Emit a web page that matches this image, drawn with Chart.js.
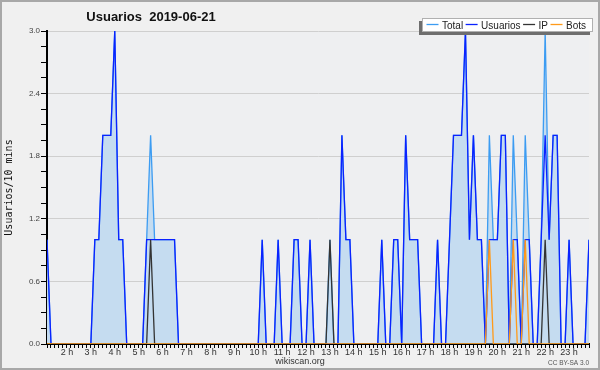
<!DOCTYPE html>
<html>
<head>
<meta charset="utf-8">
<script src="https://cdn.jsdelivr.net/npm/chart.js@4"></script>
<style>
  html, body { margin: 0; padding: 0; background: #f0f0f0; }
</style>
</head>
<body>
<canvas id="usersChart" width="600" height="370"></canvas>
<script>
// 10 minute bins for 2019-06-21
var usuarios = [
  1,0,0,0,0,0,0,0,0,0,0,0,
  1,1,2,2,2,3,1,1,0,0,0,0,
  0,1,1,1,1,1,1,1,1,0,0,0,
  0,0,0,0,0,0,0,0,0,0,0,0,
  0,0,0,0,0,0,1,0,0,0,1,0,
  0,0,1,1,0,0,1,0,0,0,0,0,
  0,0,2,1,1,0,0,0,0,0,0,0,
  1,0,0,1,1,0,2,1,1,1,0,0,
  0,0,1,0,0,1,2,2,2,3,1,2,
  1,1,0,1,1,1,2,2,0,1,1,0,
  1,1,0,0,1,2,1,2,2,0,0,1,
  0,0,0,0,1
];
var total = [
  1,0,0,0,0,0,0,0,0,0,0,0,
  1,1,2,2,2,3,1,1,0,0,0,0,
  0,1,2,1,1,1,1,1,1,0,0,0,
  0,0,0,0,0,0,0,0,0,0,0,0,
  0,0,0,0,0,0,1,0,0,0,1,0,
  0,0,1,1,0,0,1,0,0,0,0,1,
  0,0,2,1,1,0,0,0,0,0,0,0,
  1,0,0,1,1,0,2,1,1,1,0,0,
  0,0,1,0,0,1,2,2,2,3,1,2,
  1,1,0,2,1,1,2,2,0,2,1,0,
  2,1,0,0,1,3,1,2,2,0,0,1,
  0,0,0,0,1
];
var ip = [
  0,0,0,0,0,0,0,0,0,0,0,0,
  0,0,0,0,0,0,0,0,0,0,0,0,
  0,0,1,0,0,0,0,0,0,0,0,0,
  0,0,0,0,0,0,0,0,0,0,0,0,
  0,0,0,0,0,0,0,0,0,0,0,0,
  0,0,0,0,0,0,0,0,0,0,0,1,
  0,0,0,0,0,0,0,0,0,0,0,0,
  0,0,0,0,0,0,0,0,0,0,0,0,
  0,0,0,0,0,0,0,0,0,0,0,0,
  0,0,0,0,0,0,0,0,0,0,0,0,
  0,0,0,0,0,1,0,0,0,0,0,0,
  0,0,0,0,0
];
var bots = [
  0,0,0,0,0,0,0,0,0,0,0,0,
  0,0,0,0,0,0,0,0,0,0,0,0,
  0,0,0,0,0,0,0,0,0,0,0,0,
  0,0,0,0,0,0,0,0,0,0,0,0,
  0,0,0,0,0,0,0,0,0,0,0,0,
  0,0,0,0,0,0,0,0,0,0,0,0,
  0,0,0,0,0,0,0,0,0,0,0,0,
  0,0,0,0,0,0,0,0,0,0,0,0,
  0,0,0,0,0,0,0,0,0,0,0,0,
  0,0,0,1,0,0,0,0,0,1,0,0,
  1,0,0,0,0,0,0,0,0,0,0,0,
  0,0,0,0,0
];
var hourLabels = ['2 h','3 h','4 h','5 h','6 h','7 h','8 h','9 h','10 h','11 h','12 h','13 h',
                  '14 h','15 h','16 h','17 h','18 h','19 h','20 h','21 h','22 h','23 h'];
var yTicks = [0, 0.6, 1.2, 1.8, 2.4, 3.0];

var chartTitle = 'Usuarios  2019-06-21';
var yTitle = 'Usuarios/10 mins';

function toPoints(arr) {
    return arr.map(function(v, i) { return {x: i, y: v}; });
}

var lastIdx = usuarios.length - 1;

// background, frame, title, legend and footer
var decor = {
    id: 'decor',
    beforeDraw: function(chart) {
        var c = chart.ctx, a = chart.chartArea;
        c.save();
        c.fillStyle = '#f0f0f0';
        c.fillRect(0, 0, chart.width, chart.height);
        c.fillStyle = '#eeeff1';
        c.fillRect(a.left, a.top, a.right - a.left, a.bottom - a.top);
        c.strokeStyle = '#a8a8a8';
        c.lineWidth = 2;
        c.strokeRect(1, 1, chart.width - 2, chart.height - 2);
        c.restore();
    },
    afterDraw: function(chart) {
        var c = chart.ctx;
        c.save();
        c.fillStyle = '#111';
        c.font = 'bold 13px "Liberation Sans"';
        c.textAlign = 'center';
        c.textBaseline = 'alphabetic';
        c.fillText(chartTitle, 151, 21);

        // legend box
        c.fillStyle = '#6e6e6e';
        c.fillRect(419, 21, 171, 14);
        c.fillStyle = '#ffffff';
        c.fillRect(422, 18, 171, 14);
        c.strokeStyle = '#b0b0b0';
        c.lineWidth = 1;
        c.strokeRect(422.5, 18.5, 170, 13);

        c.font = '10px "Liberation Sans"';
        c.textAlign = 'left';
        var x = 426.5;
        chart.data.datasets.forEach(function(ds) {
            c.strokeStyle = ds.borderColor;
            c.lineWidth = 1.3;
            c.beginPath();
            c.moveTo(x, 24.5);
            c.lineTo(x + 12, 24.5);
            c.stroke();
            x += 15.5;
            c.fillStyle = '#222';
            c.fillText(ds.label, x, 28.5);
            x += c.measureText(ds.label).width + 2.5;
        });

        c.font = '9px "Liberation Sans"';
        c.textAlign = 'center';
        c.fillStyle = '#333';
        c.fillText('wikiscan.org', 300, 364);
        c.font = '6.5px "Liberation Sans"';
        c.textAlign = 'right';
        c.fillStyle = '#555';
        c.fillText('CC BY-SA 3.0', 589, 365);
        c.restore();
    }
};

var ctx = document.getElementById('usersChart').getContext('2d');
var usersChart = new Chart(ctx, {
    type: 'line',
    data: {
        datasets: [
            {
                label: 'Total',
                data: toPoints(total),
                borderColor: '#3c9cf2',
                backgroundColor: '#c5dcf0',
                fill: 'origin',
                order: 4
            },
            {
                label: 'Usuarios',
                data: toPoints(usuarios),
                borderColor: '#0a22ff',
                order: 3
            },
            {
                label: 'IP',
                data: toPoints(ip),
                borderColor: '#333333',
                order: 2
            },
            {
                label: 'Bots',
                data: toPoints(bots),
                borderColor: '#ff9a1a',
                order: 1
            }
        ]
    },
    options: {
        responsive: false,
        animation: false,
        devicePixelRatio: 1,
        layout: { padding: { top: 31, right: 11, left: 0, bottom: 0 } },
        elements: {
            point: { radius: 0 },
            line: { borderWidth: 1.3, tension: 0 }
        },
        plugins: {
            legend: { display: false },
            title: { display: false },
            tooltip: { enabled: false }
        },
        scales: {
            x: {
                type: 'linear',
                min: 0,
                max: lastIdx,
                afterFit: function(scale) { scale.height = 26; },
                afterBuildTicks: function(scale) {
                    var t = [];
                    for (var i = 0; i <= lastIdx; i++) t.push({value: i});
                    scale.ticks = t;
                },
                grid: {
                    drawOnChartArea: false,
                    tickLength: 4,
                    tickColor: '#000'
                },
                border: { display: true, color: '#000', width: 2 },
                ticks: {
                    autoSkip: false,
                    maxRotation: 0,
                    padding: -1,
                    color: '#333',
                    font: { family: 'Liberation Sans', size: 9 },
                    callback: function(v) {
                        var k = (v - 5) / 6;
                        return (k >= 0 && k === Math.floor(k) && hourLabels[k]) ? hourLabels[k] : '';
                    }
                }
            },
            y: {
                min: 0,
                max: 3,
                afterFit: function(scale) { scale.width = 47; },
                afterBuildTicks: function(scale) {
                    var t = [];
                    for (var k = 0; k <= 20; k++) t.push({value: Math.round(k * 15) / 100});
                    scale.ticks = t;
                },
                grid: {
                    tickLength: 6,
                    tickColor: '#000',
                    color: function(c) {
                        var v = c.tick ? c.tick.value : 0;
                        return yTicks.some(function(m) { return Math.abs(m - v) < 1e-6; }) ? '#cfcfcf' : 'rgba(0,0,0,0)';
                    }
                },
                border: { display: true, color: '#000', width: 2 },
                title: {
                    display: true,
                    text: yTitle,
                    color: '#111',
                    font: { family: 'DejaVu Sans Mono', size: 10 },
                    padding: { top: 3, bottom: 0 }
                },
                ticks: {
                    padding: 1,
                    color: '#444',
                    font: { family: 'Liberation Sans', size: 8 },
                    callback: function(v) {
                        var m = yTicks.find(function(t) { return Math.abs(t - v) < 1e-6; });
                        return m !== undefined ? m.toFixed(1) : '';
                    }
                }
            }
        }
    },
    plugins: [decor]
});
</script>
</body>
</html>
